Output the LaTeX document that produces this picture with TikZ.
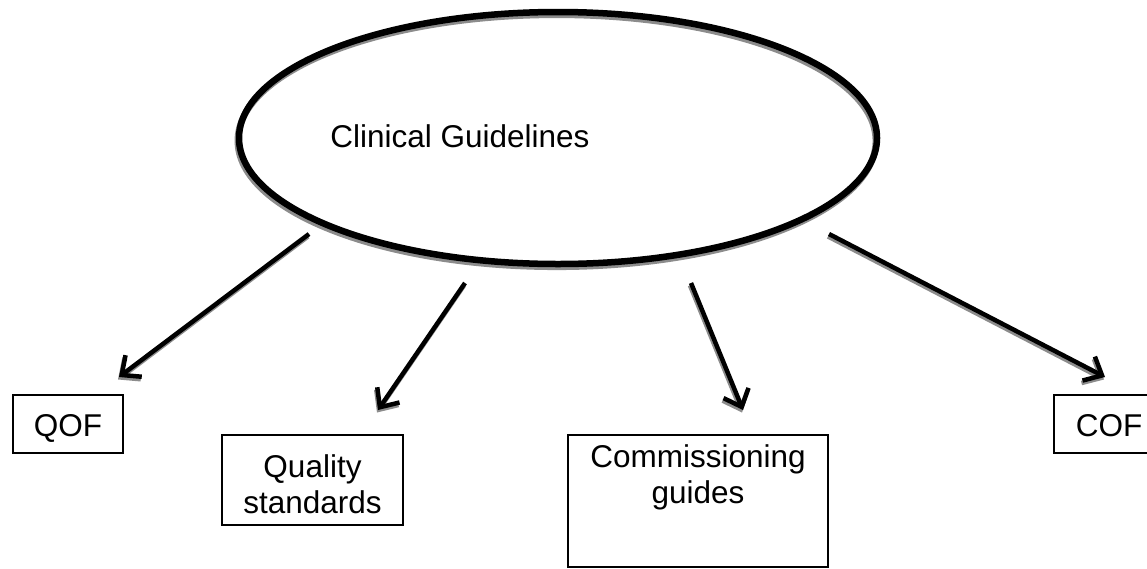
\documentclass[tikz,border=0pt]{standalone}
\usepackage{fontspec}
\setmainfont{Liberation Sans}
\usetikzlibrary{arrows.meta,shapes.geometric}
\begin{document}
\begin{tikzpicture}[x=1pt,y=-1pt,
  txt/.style={font=\fontsize{31.5}{36}\selectfont},
  oval/.style={draw, ellipse, line width=6.5pt, inner sep=0pt, minimum width=638pt, minimum height=252pt,
     preaction={draw=black!45, transform canvas={xshift=-1.2pt,yshift=-2.8pt}}},
  conn/.style={line width=4.5pt, -{Straight Barb[length=15pt,width=27pt]}},
  connshadow/.style={conn, black!45, transform canvas={xshift=-1pt,yshift=-2.5pt}},
  box/.style={draw, line width=1.5pt, txt, align=center, inner xsep=0pt, inner ysep=0pt, anchor=north}]
\useasboundingbox (0,0) rectangle (1147,568);
\fill[white] (0,0) rectangle (1147,568);
\node[oval] (cg) at (558,138) {};
\node[txt, anchor=base] (cgt) at (460,147) {Clinical Guidelines};
\node[box, minimum width=110pt, text height=42pt, text depth=16pt] (qof) at (68,394) {QOF};
\node[box, minimum width=181pt, text height=79pt, text depth=11pt] (qs) at (312.5,434) {Quality\\standards};
\node[box, minimum width=260pt, text height=69pt, text depth=63pt] (cm) at (698,434) {Commissioning\\guides};
\node[box, minimum width=110pt, text height=42pt, text depth=16pt] (cof) at (1109,394) {COF};
\coordinate (a1) at (309,234);
\coordinate (e1) at (119,377);
\coordinate (a2) at (465,283);
\coordinate (e2) at (378,410);
\coordinate (a3) at (691,283);
\coordinate (e3) at (743,410);
\coordinate (a4) at (829,234);
\coordinate (e4) at (1105,377);
\draw[connshadow] (a1) -- (e1);
\draw[connshadow] (a2) -- (e2);
\draw[connshadow] (a3) -- (e3);
\draw[connshadow] (a4) -- (e4);
\draw[conn] (a1) -- (e1);
\draw[conn] (a2) -- (e2);
\draw[conn] (a3) -- (e3);
\draw[conn] (a4) -- (e4);
\end{tikzpicture}
\end{document}
